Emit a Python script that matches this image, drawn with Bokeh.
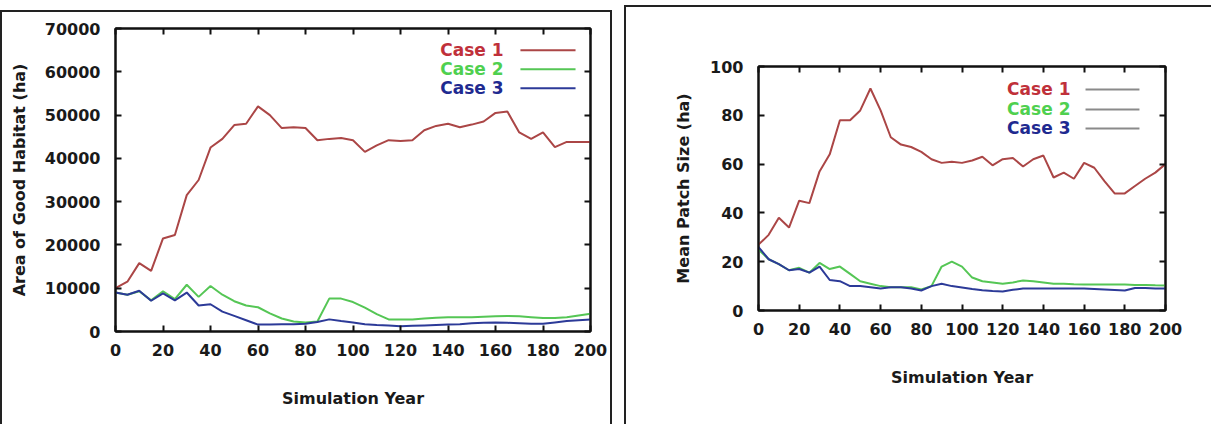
from bokeh.plotting import figure
from bokeh.layouts import row
from bokeh.models import Range1d, LinearAxis, SingleIntervalTicker, Label, ColumnDataSource
from bokeh.embed import file_html
from bokeh.resources import INLINE

years = list(range(0, 201, 5))

# Left panel: Area of Good Habitat (ha)
area_case1 = [10000, 11500, 15800, 14000, 21500, 22300, 31500, 35000, 42500, 44500,
              47700, 48000, 52000, 50000, 47000, 47200, 47000, 44200, 44500, 44700,
              44200, 41500, 43000, 44200, 44000, 44200, 46500, 47500, 48000, 47200,
              47800, 48500, 50500, 50800, 46000, 44500, 46000, 42600, 43800, 43800, 43800]
area_case2 = [9000, 8500, 9300, 7200, 9300, 7500, 10800, 8000, 10500, 8500,
              7000, 6000, 5600, 4200, 3000, 2300, 2100, 2300, 7600, 7600,
              6800, 5500, 4000, 2800, 2800, 2800, 3000, 3200, 3300, 3300,
              3300, 3400, 3500, 3600, 3500, 3300, 3100, 3100, 3300, 3700, 4100]
area_case3 = [9000, 8500, 9400, 7100, 8800, 7200, 9000, 6000, 6300, 4600,
              3600, 2600, 1600, 1600, 1700, 1700, 1800, 2200, 2800, 2400,
              2100, 1700, 1500, 1400, 1200, 1300, 1400, 1500, 1600, 1700,
              1900, 2000, 2100, 2000, 1900, 1800, 1800, 2100, 2400, 2600, 2800]

# Right panel: Mean Patch Size (ha)
patch_case1 = [27, 31, 38, 34, 45, 44, 57, 64, 78, 78,
               82, 91, 82, 71, 68, 67, 65, 62, 60.5, 61,
               60.5, 61.5, 63, 59.5, 62, 62.5, 59, 62, 63.5, 54.5,
               56.5, 54, 60.5, 58.5, 53, 48, 48, 51, 54, 56.5, 60]
patch_case2 = [25, 21, 19, 16.5, 17.5, 15.5, 19.5, 17, 18, 15,
               12, 11, 10, 9.5, 9.5, 9.5, 8.6, 10, 18, 20,
               18, 13.5, 12, 11.5, 11, 11.5, 12.3, 12, 11.5, 11,
               11, 10.8, 10.7, 10.7, 10.7, 10.7, 10.7, 10.5, 10.5, 10.3, 10.2]
patch_case3 = [26, 21, 19, 16.5, 17, 15.5, 18, 12.5, 12, 10,
               10, 9.5, 9, 9.5, 9.5, 9, 8.2, 10, 11, 10,
               9.4, 8.8, 8.3, 8, 7.8, 8.5, 9, 9, 9, 9,
               9, 9, 9, 8.8, 8.6, 8.4, 8.2, 9.2, 9.2, 9, 9]

case_names = ["Case 1", "Case 2", "Case 3"]
line_colors = ["#ab4646", "#55c655", "#2c3a98"]
text_colors = ["#c0303a", "#4fd04f", "#1f2a90"]

FONT = "DejaVu Sans"
EDGE = "2px solid #222"


def style_fig(p, xlabel, ylabel, tick_y, y_label_standoff):
    p.outline_line_color = "#111"
    p.outline_line_width = 2
    p.xgrid.visible = False
    p.ygrid.visible = False
    p.background_fill_color = "white"
    p.border_fill_color = "white"
    for ax in (p.xaxis[0], p.yaxis[0]):
        ax.axis_line_color = "#111"
        ax.axis_line_width = 2
        ax.major_tick_in = 6
        ax.major_tick_out = 0
        ax.major_tick_line_width = 2
        ax.major_tick_line_color = "#111"
        ax.minor_tick_line_color = None
        ax.major_label_text_font = FONT
        ax.major_label_text_font_style = "bold"
        ax.major_label_text_font_size = "16px"
        ax.major_label_text_color = "#1a1a1a"
        ax.axis_label_text_font = FONT
        ax.axis_label_text_font_style = "bold"
        ax.axis_label_text_font_size = "16px"
        ax.axis_label_text_color = "#1a1a1a"
    p.xaxis[0].ticker = SingleIntervalTicker(interval=20)
    p.yaxis[0].ticker = SingleIntervalTicker(interval=tick_y)
    p.xaxis[0].axis_label = xlabel
    p.yaxis[0].axis_label = ylabel
    p.xaxis[0].major_label_standoff = 8
    p.xaxis[0].axis_label_standoff = 30
    p.yaxis[0].major_label_standoff = 11
    p.yaxis[0].axis_label_standoff = y_label_standoff
    # mirrored inner ticks on top and right (no labels drawn)
    top = LinearAxis(ticker=SingleIntervalTicker(interval=20))
    right = LinearAxis(ticker=SingleIntervalTicker(interval=tick_y))
    for ax in (top, right):
        ax.axis_line_color = "#111"
        ax.axis_line_width = 2
        ax.major_tick_in = 6
        ax.major_tick_out = 0
        ax.major_tick_line_width = 2
        ax.major_tick_line_color = "#111"
        ax.minor_tick_line_color = None
        ax.major_label_text_font_size = "1px"
        ax.major_label_text_color = None
        ax.major_label_standoff = 0
    p.add_layout(top, "above")
    p.add_layout(right, "right")


def add_legend(p, x_text, x0, x1, ys, sample_colors):
    for name, tc, sc, yy in zip(case_names, text_colors, sample_colors, ys):
        p.add_layout(Label(x=x_text, y=yy, text=name, text_align="right",
                           text_baseline="middle", text_font=FONT,
                           text_font_style="bold", text_font_size="17px",
                           text_color=tc))
        p.segment(x0=[x0], y0=[yy], x1=[x1], y1=[yy], line_color=sc, line_width=2)


# ---------- left figure ----------
p1 = figure(width=612, height=414, output_backend="svg", toolbar_location=None,
            title=None, frame_align=False,
            x_range=Range1d(0, 200), y_range=Range1d(0, 70000),
            min_border_left=113, min_border_right=24, min_border_top=16,
            min_border_bottom=95,
            styles={"margin-top": "10px", "border-top": EDGE,
                    "border-left": EDGE, "border-right": EDGE})
style_fig(p1, "Simulation Year", "Area of Good Habitat (ha)", 10000, 13)
src1 = ColumnDataSource(dict(x=years, c1=area_case1, c2=area_case2, c3=area_case3))
for col, c in zip(["c1", "c2", "c3"], line_colors):
    p1.line("x", col, source=src1, line_color=c, line_width=2)
add_legend(p1, 163.4, 170.5, 193.7, [64950, 60570, 56190], line_colors)

# ---------- right figure ----------
p2 = figure(width=587, height=419, output_backend="svg", toolbar_location=None,
            title=None, frame_align=False,
            x_range=Range1d(0, 200), y_range=Range1d(0, 100),
            min_border_left=132, min_border_right=48, min_border_top=59,
            min_border_bottom=116,
            styles={"margin-top": "5px", "border-top": EDGE, "border-left": EDGE})
style_fig(p2, "Simulation Year", "Mean Patch Size (ha)", 20, 14)
src2 = ColumnDataSource(dict(x=years, c1=patch_case1, c2=patch_case2, c3=patch_case3))
for col, c in zip(["c1", "c2", "c3"], line_colors):
    p2.line("x", col, source=src2, line_color=c, line_width=2)
add_legend(p2, 153.3, 160.7, 187.2, [90.6, 82.4, 74.6], ["#8a8a8a"] * 3)

layout = row(p1, p2, spacing=12)
open("out.html", "w").write(file_html(layout, INLINE))
